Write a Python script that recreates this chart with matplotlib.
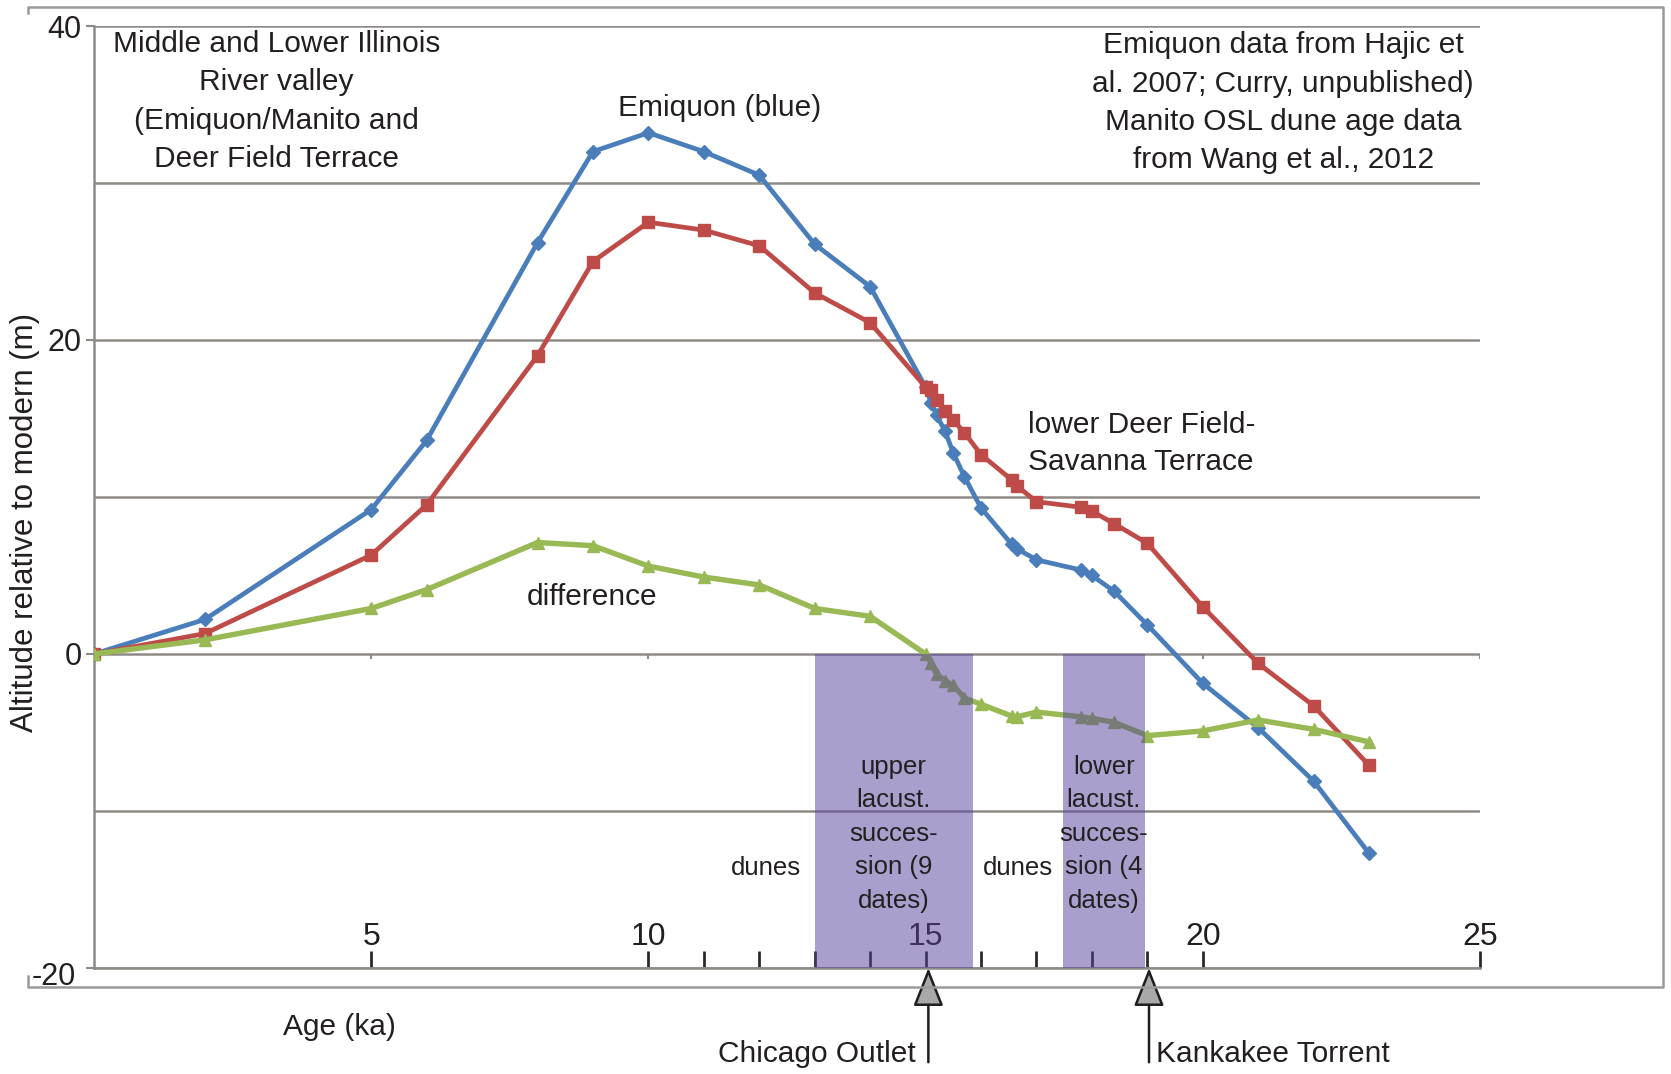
import matplotlib
import matplotlib.pyplot as plt
from matplotlib.lines import Line2D
from matplotlib.transforms import ScaledTranslation

matplotlib.use("Agg")

plt.rcParams["font.family"] = ["Liberation Sans", "DejaVu Sans"]

# ages (ka) of the valley-floor altitude estimates
age = [0, 2, 5, 6, 8, 9, 10, 11, 12, 13, 14,
       15.0, 15.1, 15.2, 15.35, 15.5, 15.7, 16.0,
       16.55, 16.65, 17.0, 17.8, 18.0, 18.4, 19.0,
       20, 21, 22, 23]
# Emiquon (blue)
emiquon = [0, 2.2, 9.2, 13.6, 26.2, 32.0, 33.2, 32.0, 30.5, 26.1, 23.4,
           17.0, 16.0, 15.2, 14.2, 12.8, 11.3, 9.3,
           7.0, 6.7, 6.0, 5.35, 5.0, 4.0, 1.85,
           -1.87, -4.7, -8.1, -12.7]
# lower Deer Field-Savanna Terrace (red)
deer_field = [0, 1.3, 6.3, 9.5, 19.0, 25.0, 27.5, 27.0, 26.0, 23.0, 21.1,
              17.0, 16.8, 16.2, 15.5, 14.9, 14.1, 12.7,
              11.1, 10.7, 9.7, 9.35, 9.1, 8.3, 7.05,
              3.0, -0.6, -3.3, -7.1]
# difference (green)
difference = [0, 0.9, 2.9, 4.1, 7.1, 6.9, 5.6, 4.9, 4.4, 2.9, 2.4,
              0.0, -0.6, -1.3, -1.7, -2.0, -2.8, -3.2,
              -3.95, -4.0, -3.7, -4.0, -4.1, -4.35, -5.2,
              -4.9, -4.2, -4.8, -5.6]

lacustrine_spans = [(13.0, 15.85), (17.48, 18.95)]
lacustrine_labels = ["upper\nlacust.\nsucces-\nsion (9\ndates)",
                     "lower\nlacust.\nsucces-\nsion (4\ndates)"]
dune_ages = [12.12, 16.67]
outlet_ages = [15.05, 19.03]
outlet_labels = ["Chicago Outlet", "Kankakee Torrent"]

x_major = [5, 10, 15, 20, 25]
x_minor = [11, 12, 13, 14, 16, 17, 18, 19]
y_major = [40, 20, 0, -20]
y_minor = [30, 10, -10]

text_col = "#231f20"
grid_col = "#8e8b87"

fig = plt.figure(figsize=(16.71, 10.74), dpi=100)
ax = fig.add_axes([0.05625, 0.0987, 0.82944, 0.87709])
ax.set_xlim(0, 25)
ax.set_ylim(-20, 40)

# grid and axes
ax.set_yticks(y_major)
ax.set_yticklabels([str(v) for v in y_major], fontsize=22, color=text_col)
ax.set_yticks(y_minor, minor=True)
ax.grid(True, axis="y", which="both", color=grid_col, lw=1.8, zorder=0)
ax.tick_params(axis="y", which="major", direction="out", length=6, width=1.5,
               color=grid_col, pad=3)
ax.tick_params(axis="y", which="minor", length=0)
lab = ax.get_yticklabels()[-1]
lab.set_transform(lab.get_transform() + ScaledTranslation(-0.06, -0.06, fig.dpi_scale_trans))
ax.set_xticks(x_major)
ax.set_xticks(x_minor, minor=True)
ax.tick_params(axis="x", which="both", direction="in", length=12, width=2,
               color="#2a2a2a", labelbottom=False)
for s in ["top", "right"]:
    ax.spines[s].set_visible(False)
for s in ["left", "bottom"]:
    ax.spines[s].set_color(grid_col)
    ax.spines[s].set_linewidth(1.8)

for x in x_major:
    ax.text(x, -18.0, str(x), ha="center", va="center", fontsize=23,
            color=text_col, zorder=1)
ax.vlines(x_major, -0.35, 0, color=grid_col, lw=1.5, zorder=1)

# series
ax.plot(age, emiquon, color="#4a7ebb", lw=3.4, marker="D", ms=7, zorder=3)
ax.plot(age, deer_field, color="#be4b48", lw=3.4, marker="s", ms=8.5, zorder=3)
ax.plot(age, difference, color="#98b954", lw=3.9, marker="^", ms=9, zorder=4)

# lacustrine boxes
for (a0, a1), txt in zip(lacustrine_spans, lacustrine_labels):
    ax.fill_between([a0, a1], -20, 0, color="#57419b", alpha=0.5, lw=0, zorder=5)
    ax.text((a0 + a1) / 2, -11.45, txt, ha="center", va="center", fontsize=18.5,
            linespacing=1.5, color=text_col, zorder=6)
for x in dune_ages:
    ax.text(x, -13.65, "dunes", ha="center", va="center", fontsize=18.5,
            color=text_col, zorder=6)

# labels inside the plot
ax.text(11.29, 34.8, "Emiquon (blue)", ha="center", va="center", fontsize=21.5,
        color=text_col)
ax.text(16.84, 13.42, "lower Deer Field-\nSavanna Terrace", ha="left",
        va="center", fontsize=21.5, linespacing=1.42, color=text_col)
ax.text(8.98, 3.63, "difference", ha="center", va="center", fontsize=21.5,
        color=text_col)
ax.text(3.29, 35.2, "Middle and Lower Illinois\nRiver valley\n(Emiquon/Manito and\nDeer Field Terrace",
        ha="center", va="center", fontsize=21.5, linespacing=1.47, color=text_col)
ax.text(21.45, 35.1, "Emiquon data from Hajic et\nal. 2007; Curry, unpublished)\nManito OSL dune age data\nfrom Wang et al., 2012",
        ha="center", va="center", fontsize=21.5, linespacing=1.47, color=text_col)

# outlet arrows below the axis
for x in outlet_ages:
    ax.annotate("", xy=(x, -20), xycoords="data",
                xytext=(x, -26.0), textcoords="data",
                arrowprops=dict(arrowstyle="-|>,head_length=2.4,head_width=0.95",
                                fc="#a9a9a9", ec="#1e1e1e", lw=1.8,
                                shrinkA=0, shrinkB=0),
                annotation_clip=False)
ax.text(outlet_ages[0] - 0.22, -25.45, outlet_labels[0], ha="right", va="center",
        fontsize=21.5, color=text_col, clip_on=False)
ax.text(outlet_ages[1] + 0.12, -25.5, outlet_labels[1], ha="left", va="center",
        fontsize=21.5, color=text_col, clip_on=False)

fig.text(339 / 1671, 1 - 1027 / 1074, "Age (ka)", ha="center", va="center",
         fontsize=21.5, color=text_col)
fig.text(25 / 1671, 1 - 522 / 1074, "Altitude relative to modern (m)",
         rotation=90, ha="center", va="center", fontsize=22.5, color=text_col)

# outer frame
L, R, T, B = 28 / 1671, 1663 / 1671, 1 - 6.5 / 1074, 1 - 987 / 1074
fig.add_artist(Line2D([L, L, R, R, L, L], [T - 0.006, T, T, B, B, B + 0.010],
                      transform=fig.transFigure, color="#9a9a9a", lw=1.8))

fig.savefig("out.png", dpi=100)
plt.close(fig)
